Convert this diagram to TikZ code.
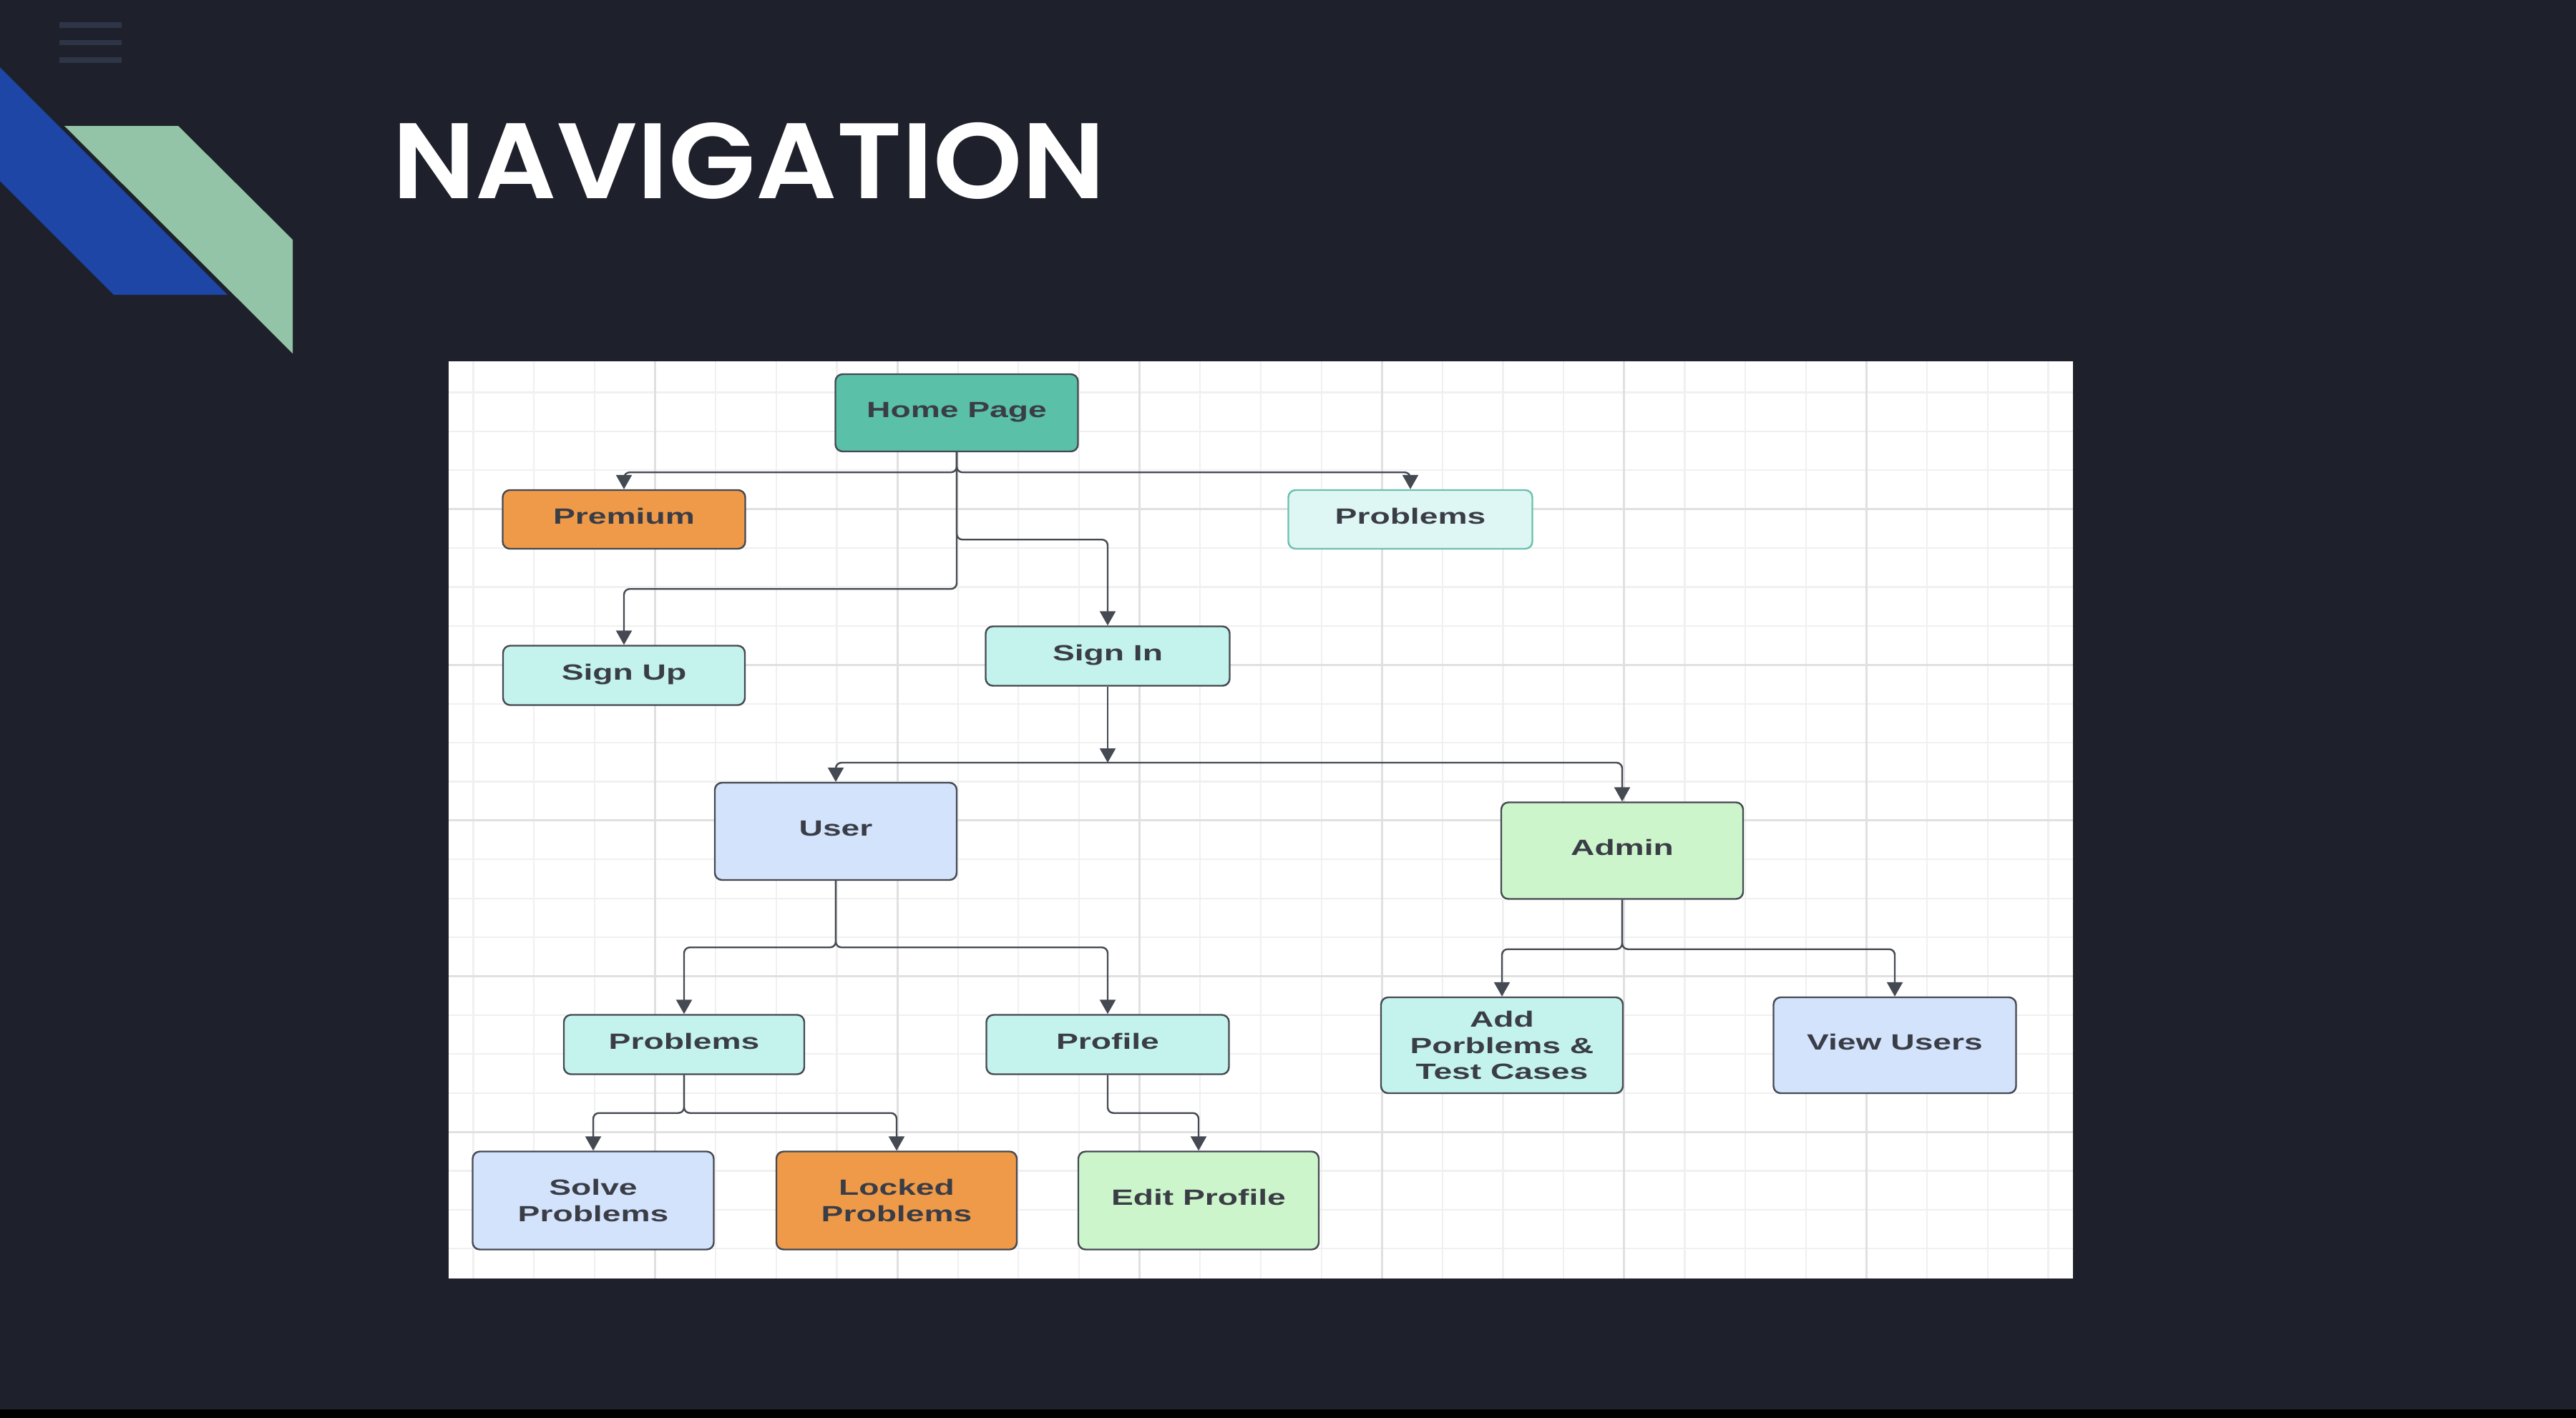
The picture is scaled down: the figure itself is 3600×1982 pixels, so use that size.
\documentclass[tikz,border=0pt]{standalone}
\usepackage{fontspec}
\usetikzlibrary{arrows.meta}
\newfontfamily\titlefont[FakeStretch=1.055]{Poppins SemiBold}
\newfontfamily\dfont[FakeStretch=1.5]{Liberation Sans}
\definecolor{bg}{HTML}{1E212B}
\definecolor{bars}{HTML}{2E3547}
\definecolor{bandblue}{HTML}{1D46A7}
\definecolor{bandgreen}{HTML}{93C4A8}
\definecolor{gridminor}{HTML}{F0F0F0}
\definecolor{gridmajor}{HTML}{E0E0E0}
\definecolor{edge}{HTML}{454952}
\definecolor{txt}{HTML}{3A3D46}
\definecolor{fteal}{HTML}{5AC0A8}
\definecolor{forange}{HTML}{EF9A48}
\definecolor{fpale}{HTML}{DFF7F4}
\definecolor{bpale}{HTML}{6CC0AE}
\definecolor{fcyan}{HTML}{C4F2EC}
\definecolor{fblue}{HTML}{D3E3FC}
\definecolor{fgreen}{HTML}{CDF5CC}
\tikzset{
  box/.style={draw=edge, line width=1.2pt, rounded corners=5pt, inner sep=0pt,
    align=center, text=txt, font=\dfont\bfseries\fontsize{15.4}{18.3}\selectfont},
  oneline/.style={text height=11pt, text depth=4.4pt},
  conn/.style={draw=edge, line width=1.2pt, rounded corners=4pt,
    -{Triangle[length=10pt,width=11pt]}}
}
\begin{document}
\begin{tikzpicture}[x=0.5pt,y=-0.5pt]
\useasboundingbox (0,0) rectangle (3600,1982);
\fill[bg] (0,0) rectangle (3600,1982);
\fill[black] (0,1970) rectangle (3600,1982);
% hamburger
\fill[bars] (83,31) rectangle (170,39);
\fill[bars] (83,56) rectangle (170,63);
\fill[bars] (83,80) rectangle (170,88);
% bands
\fill[bandblue] (0,94) -- (318,412) -- (159,412) -- (0,253) -- cycle;
\fill[bandgreen] (90,176) -- (249,176) -- (409,335) -- (409,494) -- cycle;
% title
\node[anchor=base west, inner sep=0pt, text=white, font=\titlefont\fontsize{75}{80}\selectfont] (title) at (548,277) {NAVIGATION};
% panel
\fill[white] (627,505) rectangle (2897,1787);
\begin{scope}
\clip (627,505) rectangle (2897,1787);
\foreach \k in {0,...,26} {
  \draw[gridminor, line width=1.1pt] ({661.5+84.65*\k},505) -- ({661.5+84.65*\k},1787);
}
\foreach \k in {0,...,22} {
  \draw[gridminor, line width=1.1pt] (627,{548.5+54.4*\k}) -- (2897,{548.5+54.4*\k});
}
\foreach \k in {3,7,...,23} {
  \draw[gridmajor, line width=1.5pt] ({661.5+84.65*\k},505) -- ({661.5+84.65*\k},1787);
}
\foreach \k in {3,7,...,19} {
  \draw[gridmajor, line width=1.5pt] (627,{548.5+54.4*\k}) -- (2897,{548.5+54.4*\k});
}
\end{scope}
% nodes
\node[box, oneline, fill=fteal, minimum width=169.5pt, minimum height=54pt] (home) at (1337,577) {Home Page};
\node[box, oneline, fill=forange, minimum width=169.5pt, minimum height=41pt] (premium) at (872,726) {Premium};
\node[box, oneline, fill=fpale, draw=bpale, minimum width=170.5pt, minimum height=41pt] (probtop) at (1971,726) {Problems};
\node[box, oneline, fill=fcyan, minimum width=169pt, minimum height=41.5pt] (signup) at (872,944) {Sign Up};
\node[box, oneline, fill=fcyan, minimum width=170.5pt, minimum height=41.5pt] (signin) at (1548,917) {Sign In};
\node[box, oneline, fill=fblue, minimum width=169pt, minimum height=68pt] (user) at (1168,1162) {User};
\node[box, oneline, fill=fgreen, minimum width=169pt, minimum height=67.5pt] (admin) at (2267,1189) {Admin};
\node[box, oneline, fill=fcyan, minimum width=168pt, minimum height=41.5pt] (uprob) at (956,1460) {Problems};
\node[box, oneline, fill=fcyan, minimum width=169.5pt, minimum height=41.5pt] (profile) at (1548,1460) {Profile};
\node[box, fill=fcyan, minimum width=169pt, minimum height=67pt] (addprob) at (2099,1461) {Add\\Porblems \&\\Test Cases};
\node[box, oneline, fill=fblue, minimum width=169.5pt, minimum height=67pt] (viewusers) at (2648,1461) {View Users};
\node[box, fill=fblue, minimum width=168.5pt, minimum height=68.5pt] (solve) at (829,1678) {Solve\\Problems};
\node[box, fill=forange, minimum width=168pt, minimum height=68.5pt] (locked) at (1253,1678) {Locked\\Problems};
\node[box, oneline, fill=fgreen, minimum width=168pt, minimum height=68.5pt] (editprof) at (1675,1678) {Edit Profile};
% connectors
\draw[conn] (home.south) -- ++(0,28) -| (premium.north);
\draw[conn] (home.south) -- ++(0,28) -| (probtop.north);
\draw[conn] (home.south) -- ++(0,191) -| (signup.north);
\draw[conn] (home.south) -- ++(0,122) -| (signin.north);
\coordinate (j1) at (1548,1066);
\draw[conn] (signin.south) -- (j1);
\draw[conn] (j1) -| (user.north);
\draw[conn] (j1) -| (admin.north);
\draw[conn] (user.south) -- ++(0,93) -| (uprob.north);
\draw[conn] (user.south) -- ++(0,93) -| (profile.north);
\draw[conn] (uprob.south) -- ++(0,53) -| (solve.north);
\draw[conn] (uprob.south) -- ++(0,53) -| (locked.north);
\draw[conn] (profile.south) -- ++(0,53) -| (editprof.north);
\draw[conn] (admin.south) -- ++(0,69) -| (addprob.north);
\draw[conn] (admin.south) -- ++(0,69) -| (viewusers.north);
\end{tikzpicture}
\end{document}
